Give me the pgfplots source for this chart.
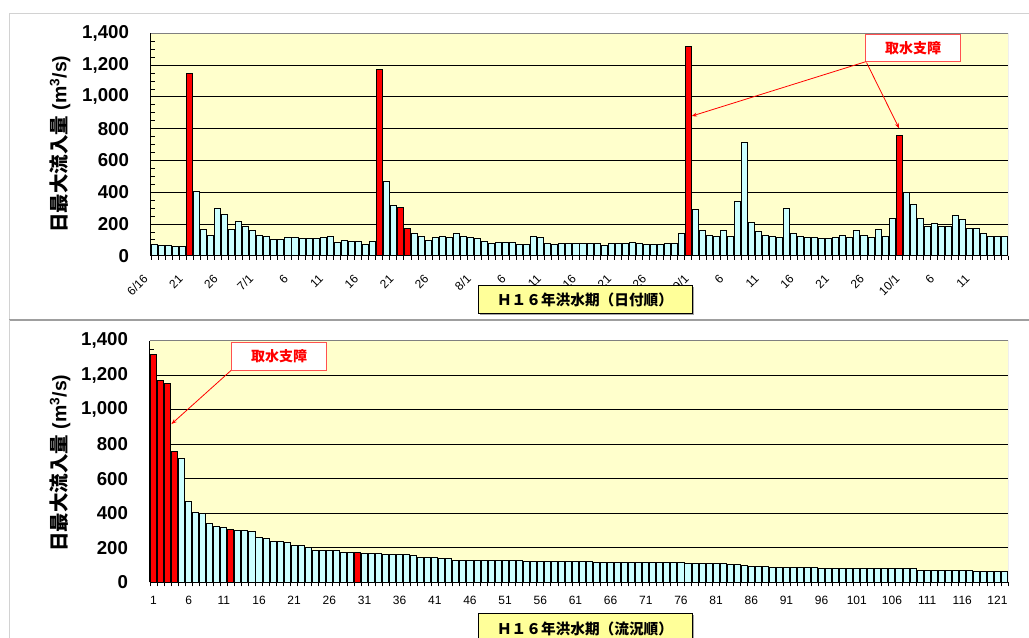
\documentclass[border=0pt]{standalone}
\usepackage{pgfplots}
\pgfplotsset{compat=1.18}
\usepackage{pgfplotstable}
\usetikzlibrary{arrows.meta}
\usepackage{fontspec}
\setmainfont{Liberation Sans}
\newfontfamily\cjk{Noto Sans CJK JP}

\definecolor{plotbg}{HTML}{FFFFCC}
\definecolor{barcyan}{HTML}{CCFFFF}
\definecolor{barred}{HTML}{FF0000}
\definecolor{titlebox}{HTML}{FFFF99}
\definecolor{notebd}{HTML}{FF5050}

% daily maximum inflow, 6/16 (d=0) to 10/15 (d=121); r = days with intake trouble
\pgfplotstableread{
d q r
0 70 nan
1 65 nan
2 65 nan
3 60 nan
4 60 nan
5 1150 1150
6 405 nan
7 165 nan
8 128 nan
9 300 nan
10 258 nan
11 165 nan
12 216 nan
13 182 nan
14 159 nan
15 128 nan
16 119 nan
17 102 nan
18 102 nan
19 113 nan
20 113 nan
21 108 nan
22 108 nan
23 108 nan
24 113 nan
25 119 nan
26 85 nan
27 98 nan
28 90 nan
29 90 nan
30 71 nan
31 88 nan
32 1172 1172
33 469 nan
34 316 nan
35 305 305
36 170 170
37 142 nan
38 119 nan
39 94 nan
40 113 nan
41 119 nan
42 113 nan
43 142 nan
44 124 nan
45 113 nan
46 108 nan
47 88 nan
48 77 nan
49 85 nan
50 85 nan
51 85 nan
52 71 nan
53 71 nan
54 119 nan
55 113 nan
56 77 nan
57 71 nan
58 77 nan
59 77 nan
60 77 nan
61 77 nan
62 77 nan
63 77 nan
64 65 nan
65 77 nan
66 77 nan
67 77 nan
68 85 nan
69 77 nan
70 71 nan
71 71 nan
72 71 nan
73 77 nan
74 77 nan
75 142 nan
76 1320 1320
77 293 nan
78 159 nan
79 128 nan
80 124 nan
81 159 nan
82 124 nan
83 340 nan
84 715 nan
85 212 nan
86 153 nan
87 128 nan
88 119 nan
89 113 nan
90 298 nan
91 140 nan
92 119 nan
93 113 nan
94 113 nan
95 108 nan
96 108 nan
97 113 nan
98 128 nan
99 113 nan
100 159 nan
101 128 nan
102 113 nan
103 165 nan
104 124 nan
105 235 nan
106 760 760
107 400 nan
108 322 nan
109 234 nan
110 182 nan
111 203 nan
112 182 nan
113 182 nan
114 253 nan
115 228 nan
116 172 nan
117 172 nan
118 139 nan
119 119 nan
120 119 nan
121 119 nan
}\bydate

% the same days ranked by flow (flow duration order)
\pgfplotstableread{
k q r
1 1320 1320
2 1172 1172
3 1150 1150
4 760 760
5 715 nan
6 469 nan
7 405 nan
8 400 nan
9 340 nan
10 322 nan
11 316 nan
12 305 305
13 300 nan
14 298 nan
15 293 nan
16 258 nan
17 253 nan
18 235 nan
19 234 nan
20 228 nan
21 216 nan
22 212 nan
23 203 nan
24 182 nan
25 182 nan
26 182 nan
27 182 nan
28 172 nan
29 172 nan
30 170 170
31 165 nan
32 165 nan
33 165 nan
34 159 nan
35 159 nan
36 159 nan
37 159 nan
38 153 nan
39 142 nan
40 142 nan
41 142 nan
42 140 nan
43 139 nan
44 128 nan
45 128 nan
46 128 nan
47 128 nan
48 128 nan
49 128 nan
50 124 nan
51 124 nan
52 124 nan
53 124 nan
54 119 nan
55 119 nan
56 119 nan
57 119 nan
58 119 nan
59 119 nan
60 119 nan
61 119 nan
62 119 nan
63 119 nan
64 113 nan
65 113 nan
66 113 nan
67 113 nan
68 113 nan
69 113 nan
70 113 nan
71 113 nan
72 113 nan
73 113 nan
74 113 nan
75 113 nan
76 113 nan
77 108 nan
78 108 nan
79 108 nan
80 108 nan
81 108 nan
82 108 nan
83 102 nan
84 102 nan
85 98 nan
86 94 nan
87 90 nan
88 90 nan
89 88 nan
90 88 nan
91 85 nan
92 85 nan
93 85 nan
94 85 nan
95 85 nan
96 77 nan
97 77 nan
98 77 nan
99 77 nan
100 77 nan
101 77 nan
102 77 nan
103 77 nan
104 77 nan
105 77 nan
106 77 nan
107 77 nan
108 77 nan
109 77 nan
110 71 nan
111 71 nan
112 71 nan
113 71 nan
114 71 nan
115 71 nan
116 71 nan
117 70 nan
118 65 nan
119 65 nan
120 65 nan
121 60 nan
122 60 nan
}\byflow

\pgfplotsset{
  flowaxis/.style={
    scale only axis,
    axis lines=left,
    axis line style={-, black, line width=0.75pt},
    axis background/.style={fill=plotbg},
    ymin=0, ymax=1400,
    ytick={0,200,...,1400},
    minor y tick num=3,
    ymajorgrids,
    major grid style={black, line width=0.6pt},
    tick align=outside,
    major tick length=3pt, minor tick length=3pt,
    tick style={black, line width=0.6pt},
    every major y tick/.append style={xshift=3pt},
    every minor y tick/.append style={xshift=3pt},
    every major x tick/.append style={draw=none},
    yticklabel style={font=\bfseries\fontsize{14}{14}\selectfont, xshift=-10pt},
    xticklabel style={font=\fontsize{9}{9}\selectfont},
    /pgf/number format/.cd, 1000 sep={,}, assume math mode=true,
    /pgfplots/.cd,
  },
  flowbar/.style={ybar, bar width=0.86, bar shift=0pt, draw=black, line width=0.75pt},
}

\begin{document}
\begin{tikzpicture}
\path[use as bounding box] (0,0) rectangle (771.75pt,-477.75pt);
\clip (0,0) rectangle (771.75pt,-477.75pt);

% ---------- by date ----------
\begin{axis}[flowaxis,
  at={(113.25pt,-191.8pt)}, anchor=south west,
  width=642.75pt, height=166.8pt,
  xmin=-0.5, xmax=121.5,
  xtick={0,5,10,15,20,25,30,35,40,46,51,56,61,66,71,77,82,87,92,97,102,107,112,117},
  xticklabels={6/16,21,26,7/1,6,11,16,21,26,8/1,6,11,16,21,26,9/1,6,11,16,21,26,10/1,6,11},
  minor xtick={-0.5,0.5,...,121.5},
  xticklabel style={inner sep=0.5pt, xshift=-9pt, yshift=-9.5pt, rotate=45, anchor=north east},
]
\addplot[flowbar, fill=barcyan] table[x=d, y=q] {\bydate};
\addplot[flowbar, fill=barred] table[x=d, y=r] {\bydate};
\draw[gray, line width=0.6pt] (rel axis cs:0,1) -- (rel axis cs:1,1) -- (rel axis cs:1,0);
\coordinate (ta) at (axis cs:76.47,879);
\coordinate (tb) at (axis cs:106,802);
\end{axis}

% ---------- by flow rank ----------
\begin{axis}[flowaxis,
  at={(112.5pt,-436.7pt)}, anchor=south west,
  width=643.5pt, height=181.2pt,
  xmin=0.5, xmax=122.5,
  xtick={1,6,...,121},
  minor xtick={0.5,1.5,...,122.5},
  xticklabel style={yshift=-4pt},
]
\addplot[flowbar, fill=barcyan] table[x=k, y=q] {\byflow};
\addplot[flowbar, fill=barred] table[x=k, y=r] {\byflow};
\draw[gray, line width=0.6pt] (rel axis cs:0,1) -- (rel axis cs:1,1) -- (rel axis cs:1,0);
\coordinate (ba) at (axis cs:3.55,917);
\end{axis}

\begin{scope}[x=0.75pt, y=-0.75pt]
  % chart frames
  \draw[gray!35, line width=0.75pt] (9,13) -- (1040,13);
  \draw[gray!35, line width=0.75pt] (9,13) -- (9,319);
  \draw[gray!75, line width=1.5pt] (9,319.8) -- (1040,319.8);
  \draw[gray!35, line width=0.75pt] (9,320) -- (9,650);

  % axis titles
  \node[rotate=90] at (60,144)
    {\bfseries\fontsize{14.6}{15}\selectfont{\cjk 日最大流入量} (m\textsuperscript{3}/s)};
  \node[rotate=90] at (60,463)
    {\bfseries\fontsize{14.6}{15}\selectfont{\cjk 日最大流入量} (m\textsuperscript{3}/s)};

  \fill[gray!70] (480,287) rectangle (694,315);
  \draw[black, fill=titlebox, line width=0.6pt] (478,285) rectangle (692,313);
  \node at (585,300) {\cjk\bfseries\fontsize{11}{12}\selectfont Ｈ１６年洪水期（日付順）};

  \fill[gray!70] (480,615) rectangle (694,645);
  \draw[black, fill=titlebox, line width=0.6pt] (478,613) rectangle (692,643);
  \node at (585,629) {\cjk\bfseries\fontsize{11}{12}\selectfont Ｈ１６年洪水期（流況順）};

  % intake-trouble notes
  \draw[notebd, fill=white, line width=0.75pt] (865.7,34.3) rectangle (960,61.7);
  \node at (913,48) {\cjk\bfseries\fontsize{10.5}{12}\selectfont\color{red}取水支障};
  \draw[red, line width=0.6pt, -{Stealth[length=4pt,width=3pt]}] (865.7,61.7) -- (ta);
  \draw[red, line width=0.6pt, -{Stealth[length=4pt,width=3pt]}] (866.5,62.5) -- (tb);

  \draw[notebd, fill=white, line width=0.75pt] (231.3,342.7) rectangle (326.7,370);
  \node at (279,356.5) {\cjk\bfseries\fontsize{10.5}{12}\selectfont\color{red}取水支障};
  \draw[red, line width=0.6pt, -{Stealth[length=4pt,width=3pt]}] (231,370.5) -- (ba);
\end{scope}
\end{tikzpicture}
\end{document}
